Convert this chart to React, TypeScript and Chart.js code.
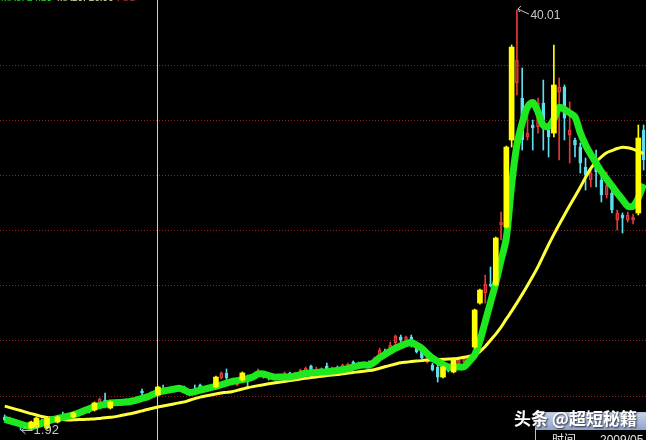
import React, { useEffect, useRef } from "react";
import { Chart, registerables } from "chart.js";
Chart.register(...registerables);

// candle data (price), index 0..121
const opens = [
  3.10, 2.64, 2.73, 2.46, 2.10, 2.10, 2.19, 2.82, 2.10, 2.91,
  2.64, 3.19, 3.00, 3.10, 3.46, 3.46, 3.73, 3.73, 4.37, 4.64,
  3.91, 4.46, 4.27, 4.55, 4.37, 4.73, 5.45, 4.91, 5.18, 5.09,
  5.63, 5.45, 5.63, 5.63, 5.73, 5.27, 5.63, 6.00, 5.54, 5.82,
  5.82, 6.63, 7.09, 6.18, 6.00, 6.45, 6.81, 6.63, 7.09, 7.09,
  6.81, 6.54, 6.72, 6.81, 7.09, 6.90, 7.09, 7.36, 7.72, 7.27,
  7.36, 7.72, 7.36, 7.54, 7.54, 7.63, 8.08, 7.72, 7.90, 7.99,
  7.81, 8.72, 9.08, 8.99, 9.81, 10.35, 9.90, 10.35, 9.44, 9.17,
  8.08, 7.81, 7.63, 6.72, 7.54, 7.18, 7.99, 8.08, 8.45, 9.44,
  13.43, 14.34, 15.16, 15.07, 20.51, 20.33, 28.22, 33.39, 32.03, 28.49,
  29.58, 29.40, 31.58, 29.13, 28.85, 32.57, 33.03, 28.67, 28.22, 27.58,
  25.77, 24.59, 26.41, 24.59, 23.23, 23.41, 20.96, 21.42, 20.96, 20.96,
  21.60, 29.13,
];
const closes = [
  2.82, 2.91, 2.46, 2.19, 2.37, 2.64, 3.00, 2.55, 3.00, 2.73,
  3.10, 2.91, 3.19, 3.46, 3.28, 3.64, 3.55, 4.37, 4.73, 4.46,
  4.46, 4.27, 4.55, 4.37, 4.64, 4.55, 5.27, 5.09, 5.00, 5.82,
  5.45, 5.63, 5.45, 5.82, 5.54, 5.45, 5.45, 5.82, 5.73, 5.63,
  6.72, 7.09, 6.63, 6.45, 6.27, 7.09, 6.54, 6.81, 7.27, 6.81,
  6.63, 6.72, 6.54, 7.09, 6.81, 7.09, 7.36, 7.54, 7.36, 7.45,
  7.18, 7.45, 7.54, 7.36, 7.81, 7.90, 7.72, 7.99, 7.72, 7.81,
  8.45, 9.17, 8.81, 9.63, 10.44, 10.08, 10.35, 9.63, 8.99, 8.45,
  8.72, 7.36, 6.72, 7.63, 7.27, 8.36, 8.27, 8.45, 8.18, 12.80,
  14.61, 15.16, 14.98, 19.33, 20.78, 27.58, 36.65, 35.48, 28.22, 28.85,
  29.31, 31.58, 30.03, 28.49, 33.21, 33.03, 30.21, 29.13, 27.77, 26.13,
  25.04, 25.23, 25.32, 23.23, 24.14, 21.87, 21.60, 21.14, 21.42, 21.24,
  28.40, 26.41,
];
const highs = [
  3.28, 3.10, 2.82, 2.55, 2.46, 2.73, 3.10, 2.91, 3.10, 3.00,
  3.19, 3.55, 3.28, 3.55, 3.64, 3.73, 3.91, 4.46, 4.82, 5.27,
  4.55, 4.64, 4.64, 4.73, 4.82, 4.91, 5.63, 5.18, 5.36, 5.91,
  6.00, 5.73, 5.82, 5.91, 5.91, 5.54, 6.00, 6.09, 5.82, 5.91,
  6.81, 7.18, 7.45, 6.54, 6.45, 7.18, 6.90, 6.90, 7.45, 7.18,
  6.90, 6.81, 6.81, 7.18, 7.18, 7.18, 7.45, 7.63, 7.81, 7.63,
  7.54, 7.99, 7.63, 7.72, 7.90, 7.99, 8.18, 8.08, 8.08, 8.18,
  8.54, 9.35, 9.26, 9.90, 10.53, 10.53, 10.44, 10.53, 9.63, 9.26,
  8.81, 7.99, 7.81, 7.72, 7.72, 8.45, 8.36, 8.54, 8.63, 12.89,
  14.71, 15.97, 16.70, 19.42, 21.69, 27.68, 36.84, 40.01, 34.75, 31.21,
  30.03, 32.03, 33.66, 29.76, 36.84, 33.84, 33.21, 31.67, 28.40, 27.95,
  26.59, 25.50, 27.31, 25.04, 25.32, 23.96, 21.87, 21.60, 21.69, 21.51,
  29.58, 29.58,
];
const lows = [
  2.73, 2.55, 2.37, 1.92, 2.01, 2.01, 2.10, 2.37, 2.01, 2.64,
  2.55, 2.82, 2.91, 3.00, 3.19, 3.37, 3.46, 3.64, 4.27, 3.91,
  3.82, 4.18, 4.18, 4.27, 4.27, 4.46, 5.09, 4.82, 4.91, 5.00,
  5.27, 5.36, 5.36, 5.54, 5.45, 5.18, 5.36, 5.73, 5.45, 5.54,
  5.73, 6.54, 6.00, 6.09, 5.91, 6.36, 5.82, 6.54, 7.00, 6.63,
  6.45, 6.45, 6.45, 6.72, 6.63, 6.81, 7.00, 7.27, 7.09, 7.18,
  7.09, 7.09, 7.27, 7.27, 7.45, 7.54, 7.63, 7.63, 7.63, 7.72,
  7.72, 8.63, 8.72, 8.90, 9.54, 9.90, 9.81, 9.44, 8.90, 8.36,
  7.99, 7.27, 6.27, 6.63, 7.18, 7.09, 7.90, 7.99, 8.08, 9.35,
  13.34, 13.43, 14.89, 14.98, 19.15, 20.24, 27.58, 32.30, 27.31, 28.22,
  27.31, 28.85, 27.31, 26.68, 28.49, 26.41, 28.22, 26.13, 26.68, 25.23,
  23.68, 23.96, 23.96, 22.60, 22.96, 21.60, 20.06, 19.78, 20.78, 20.60,
  21.42, 25.50,
];
// u = rising (hollow red), d = falling (cyan), l = strong rise (yellow)
const kinds = [
  "d", "u", "d", "d", "u", "l", "l", "d", "l", "d",
  "l", "d", "u", "l", "d", "u", "d", "l", "u", "d",
  "l", "d", "u", "d", "u", "d", "d", "u", "d", "l",
  "d", "u", "d", "u", "d", "u", "d", "d", "u", "d",
  "l", "u", "d", "u", "u", "l", "d", "u", "u", "d",
  "d", "u", "d", "u", "d", "u", "u", "u", "d", "u",
  "d", "d", "u", "d", "u", "u", "d", "u", "d", "d",
  "u", "u", "d", "u", "u", "d", "u", "d", "d", "d",
  "u", "d", "d", "l", "d", "l", "u", "u", "d", "l",
  "l", "u", "d", "l", "u", "l", "l", "u", "d", "u",
  "d", "u", "d", "d", "l", "u", "d", "u", "d", "d",
  "d", "u", "d", "d", "u", "d", "u", "d", "u", "u",
  "l", "d",
];
// fast moving average (green)
const maFast = [
  2.89, 2.74, 2.60, 2.46, 2.32, 2.21, 2.37, 2.52, 2.69, 2.86,
  2.96, 3.07, 3.17, 3.28, 3.46, 3.66, 3.85, 4.03, 4.13, 4.25,
  4.37, 4.39, 4.42, 4.45, 4.52, 4.64, 4.78, 4.92, 5.13, 5.34,
  5.44, 5.53, 5.62, 5.70, 5.55, 5.32, 5.39, 5.54, 5.65, 5.76,
  5.88, 6.02, 6.17, 6.30, 6.39, 6.49, 6.58, 6.72, 7.00, 7.00,
  6.86, 6.72, 6.72, 6.72, 6.72, 6.82, 6.94, 7.06, 7.10, 7.13,
  7.17, 7.19, 7.27, 7.32, 7.39, 7.49, 7.61, 7.76, 7.81, 7.81,
  8.08, 8.48, 8.77, 9.06, 9.35, 9.55, 9.74, 9.85, 9.62, 9.32,
  8.84, 8.43, 8.14, 7.86, 7.63, 7.63, 7.63, 7.65, 8.16, 8.73,
  10.02, 11.74, 13.50, 15.27, 17.32, 19.34, 24.14, 27.77, 29.76, 31.21,
  31.62, 30.76, 29.55, 29.45, 30.12, 31.19, 31.00, 30.67, 30.32, 28.88,
  27.77, 26.90, 26.12, 25.35, 24.67, 24.05, 23.41, 22.81, 22.22, 22.21,
  22.99, 24.23,
];
// slow moving average (yellow)
const maSlow = [
  4.08, 3.95, 3.81, 3.68, 3.54, 3.40, 3.28, 3.14, 3.05, 3.00,
  2.93, 2.88, 2.82, 2.84, 2.86, 2.88, 2.90, 2.92, 2.97, 3.02,
  3.07, 3.13, 3.23, 3.33, 3.42, 3.53, 3.65, 3.78, 3.89, 4.01,
  4.10, 4.19, 4.28, 4.38, 4.47, 4.62, 4.76, 4.90, 5.00, 5.09,
  5.19, 5.28, 5.33, 5.39, 5.51, 5.63, 5.75, 5.85, 5.94, 6.02,
  6.11, 6.19, 6.25, 6.32, 6.40, 6.47, 6.54, 6.61, 6.67, 6.73,
  6.79, 6.85, 6.90, 6.96, 7.01, 7.08, 7.13, 7.20, 7.25, 7.31,
  7.39, 7.52, 7.65, 7.78, 7.90, 8.01, 8.07, 8.12, 8.17, 8.21,
  8.27, 8.28, 8.30, 8.33, 8.35, 8.37, 8.43, 8.51, 8.61, 8.72,
  9.04, 9.49, 10.06, 10.61, 11.24, 11.99, 12.70, 13.45, 14.22, 15.02,
  15.86, 16.74, 17.73, 18.72, 19.66, 20.56, 21.42, 22.27, 23.10, 23.94,
  24.83, 25.65, 26.25, 26.70, 27.06, 27.26, 27.45, 27.57, 27.52, 27.39,
  27.20, 26.99,
];
const gridLevels = [5, 10, 15, 20, 25, 30, 35];
const markedIndex = 29;
const Y_MIN = 1.01;
const Y_MAX = 40.92;
const X_MIN = -0.9;
const X_MAX = 121.45;

const COLORS: Record<string, string> = { u: "#e03a3a", d: "#5ee0ee", l: "#ffff00" };

export default function App() {
  const ref = useRef<HTMLCanvasElement>(null);
  useEffect(() => {
    document.body.style.margin = "0";
    document.body.style.background = "#000";
    const idx = opens.map((_, i) => i);
    const plain = idx.filter((i) => kinds[i] !== "l");
    const strong = idx.filter((i) => kinds[i] === "l");
    const upper = (list: number[]) => list.map((i) => ({ x: i, y: [Math.max(opens[i], closes[i]), highs[i]] }));
    const lower = (list: number[]) => list.map((i) => ({ x: i, y: [lows[i], Math.min(opens[i], closes[i])] }));
    const body = (list: number[]) => list.map((i) => ({ x: i, y: [opens[i], closes[i]] }));
    const colOf = (list: number[]) => list.map((i) => COLORS[kinds[i]]);
    const fillOf = (list: number[]) => list.map((i) => (kinds[i] === "u" ? "rgba(0,0,0,0)" : COLORS[kinds[i]]));

    const bg = {
      id: "bg",
      beforeDraw(c: any) {
        const ctx = c.ctx;
        ctx.save();
        ctx.fillStyle = "#000";
        ctx.fillRect(0, 0, c.width, c.height);
        ctx.restore();
      },
    };
    const notes = {
      id: "notes",
      afterDraw(c: any) {
        const ctx = c.ctx;
        const xs = c.scales.x;
        const ys = c.scales.y;
        let hi = 0;
        let lo = 0;
        highs.forEach((v, i) => { if (v > highs[hi]) hi = i; });
        lows.forEach((v, i) => { if (v < lows[lo]) lo = i; });
        ctx.save();
        // top-left indicator captions (cut by the top edge)
        ctx.font = '10px "Liberation Sans"';
        ctx.textBaseline = "alphabetic";
        ctx.fillStyle = "#22dd22";
        ctx.fillText("MA5: " + maFast[maFast.length - 1].toFixed(2), 1, 1);
        ctx.fillStyle = "#e8e8b0";
        ctx.fillText("MA20: " + maSlow[maSlow.length - 1].toFixed(2), 57, 1);
        ctx.fillStyle = "#b03030";
        ctx.fillText("VOL", 115, 1);

        ctx.strokeStyle = "#c8c8c8";
        ctx.fillStyle = "#c8c8c8";
        ctx.lineWidth = 1;
        // high marker
        const hx = xs.getPixelForValue(hi);
        const hy = ys.getPixelForValue(highs[hi]);
        ctx.beginPath();
        ctx.moveTo(hx + 1, hy - 1);
        ctx.lineTo(hx + 12, hy + 4);
        ctx.moveTo(hx + 1, hy - 1);
        ctx.lineTo(hx + 4, hy - 4);
        ctx.moveTo(hx + 1, hy - 1);
        ctx.lineTo(hx + 3, hy + 2);
        ctx.stroke();
        ctx.font = '12px "Liberation Sans"';
        ctx.textBaseline = "middle";
        ctx.fillText(highs[hi].toFixed(2), hx + 13.5, hy + 6);
        // low marker
        const lx = xs.getPixelForValue(lo);
        const ly = ys.getPixelForValue(lows[lo]);
        ctx.beginPath();
        ctx.moveTo(lx + 1, ly + 0.5);
        ctx.lineTo(lx + 12, ly + 0.5);
        ctx.moveTo(lx + 1, ly + 0.5);
        ctx.lineTo(lx + 5, ly - 3);
        ctx.moveTo(lx + 1, ly + 0.5);
        ctx.lineTo(lx + 5, ly + 4);
        ctx.stroke();
        ctx.font = '13px "Liberation Sans"';
        ctx.fillText(lows[lo].toFixed(2), lx + 13, ly + 0.5);

        // info box at bottom right
        const grad = ctx.createLinearGradient(0, 412, 0, 430);
        grad.addColorStop(0, "#c8d4ec");
        grad.addColorStop(1, "#8ea2cc");
        ctx.fillStyle = grad;
        ctx.fillRect(535, 412, 111, 18);
        ctx.fillStyle = "#000";
        ctx.fillRect(536, 430, 110, 10);
        ctx.strokeStyle = "#b8c0d0";
        ctx.strokeRect(535.5, 412.5, 111, 30);
        ctx.fillStyle = "#e8e8e8";
        ctx.font = '12px "Noto Sans CJK SC"';
        ctx.textBaseline = "alphabetic";
        ctx.fillText("时间", 552, 444);
        ctx.font = '12px "Liberation Sans"';
        ctx.fillText("2009/05", 600, 444);

        // watermark
        ctx.font = 'bold 17px "Noto Sans CJK SC"';
        ctx.textBaseline = "alphabetic";
        ctx.shadowColor = "rgba(0,0,0,0.8)";
        ctx.shadowBlur = 2;
        ctx.shadowOffsetX = 1;
        ctx.shadowOffsetY = 1;
        ctx.fillStyle = "#ffffff";
        ctx.fillText("头条 @超短秘籍", 514, 425);
        ctx.restore();
      },
    };

    const chart = new Chart(ref.current as HTMLCanvasElement, {
      type: "bar",
      data: {
        datasets: [
          // ordinary candles (under the average lines)
          { data: upper(plain), backgroundColor: colOf(plain), borderWidth: 0, barThickness: 1, grouped: false, order: 6 } as any,
          { data: lower(plain), backgroundColor: colOf(plain), borderWidth: 0, barThickness: 1, grouped: false, order: 6 } as any,
          {
            data: body(plain),
            backgroundColor: fillOf(plain),
            borderColor: colOf(plain),
            borderWidth: 1,
            borderSkipped: false,
            barThickness: 3,
            grouped: false,
            order: 5,
          } as any,
          {
            type: "line",
            data: idx.map((i) => ({ x: i, y: maSlow[i] })),
            borderColor: "#ffff3a",
            borderWidth: 3,
            pointRadius: 0,
            tension: 0.3,
            order: 4,
          } as any,
          {
            type: "line",
            data: idx.map((i) => ({ x: i, y: maFast[i] })),
            borderColor: "#1ee81e",
            borderWidth: 7,
            pointRadius: 0,
            tension: 0.3,
            order: 3,
          } as any,
          // strong (yellow) candles drawn over the lines
          { data: upper(strong), backgroundColor: colOf(strong), borderWidth: 0, barThickness: 1, grouped: false, order: 1 } as any,
          { data: lower(strong), backgroundColor: colOf(strong), borderWidth: 0, barThickness: 1, grouped: false, order: 1 } as any,
          {
            data: body(strong),
            backgroundColor: fillOf(strong),
            borderColor: colOf(strong),
            borderWidth: 0,
            borderSkipped: false,
            barThickness: 5,
            grouped: false,
            order: 0,
          } as any,
        ],
      },
      options: {
        responsive: false,
        animation: false,
        events: [],
        layout: { padding: 0 },
        plugins: { legend: { display: false }, tooltip: { enabled: false } },
        scales: {
          x: {
            type: "linear",
            min: X_MIN,
            max: X_MAX,
            offset: false,
            grid: { color: "#d0d0d0", lineWidth: 1, drawTicks: false, offset: false },
            border: { display: false },
            ticks: { display: false },
            afterBuildTicks: (s: any) => {
              s.ticks = [{ value: markedIndex }];
            },
          },
          y: {
            type: "linear",
            min: Y_MIN,
            max: Y_MAX,
            grid: { color: "#8c2222", lineWidth: 1, drawTicks: false },
            border: { display: false, dash: [1, 2] },
            ticks: { display: false },
            afterBuildTicks: (s: any) => {
              s.ticks = gridLevels.map((v) => ({ value: v }));
            },
          },
        },
      } as any,
      plugins: [bg, notes],
    });
    return () => chart.destroy();
  }, []);
  return (
    <div style={{ width: 646, height: 440, background: "#000" }}>
      <canvas ref={ref} width={646} height={440} style={{ display: "block" }} />
    </div>
  );
}
